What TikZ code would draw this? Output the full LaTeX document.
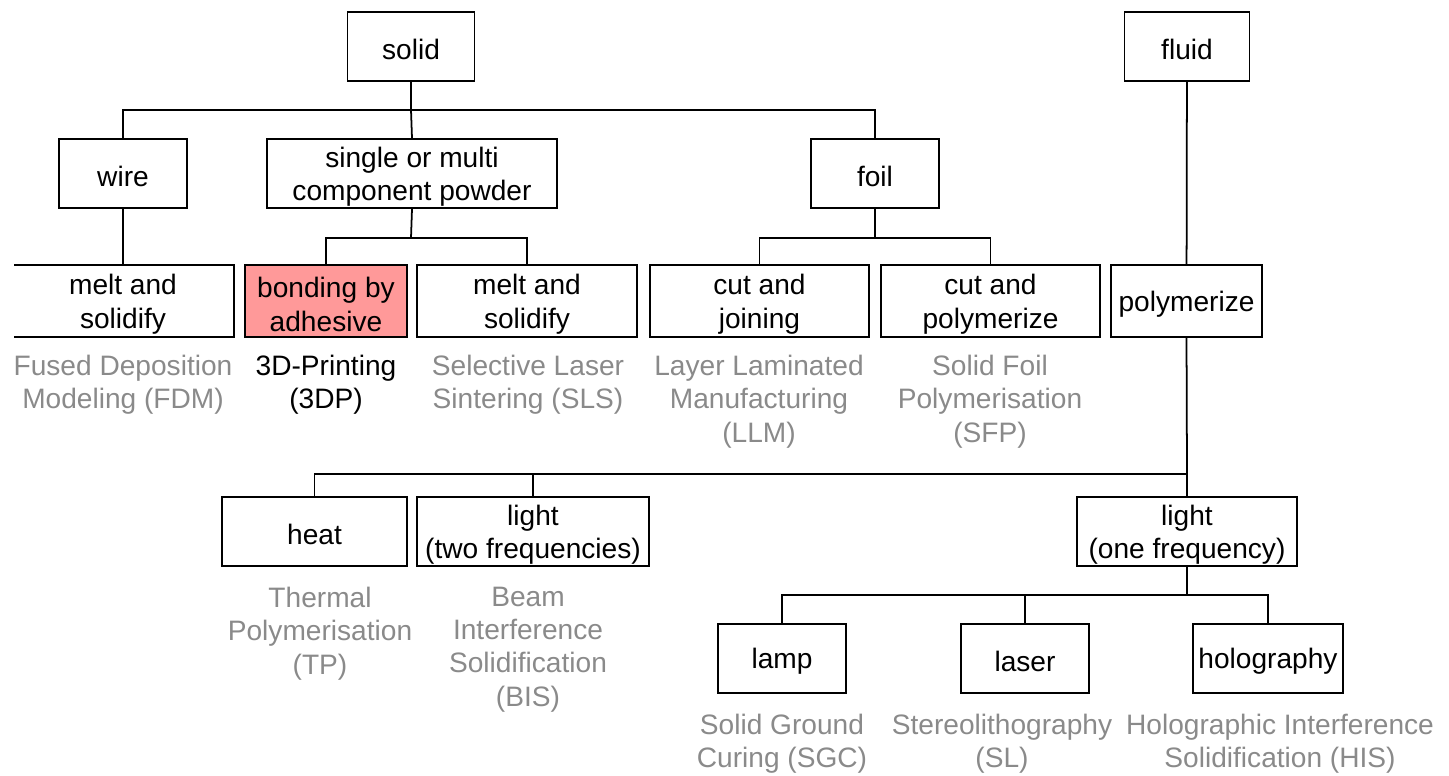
\documentclass[tikz,border=0pt]{standalone}
\usepackage{fontspec}
\setmainfont{Liberation Sans}
\usetikzlibrary{positioning}
\definecolor{labelgray}{RGB}{138,138,138}
\definecolor{adhesivered}{RGB}{255,153,153}

\tikzset{
	proc/.style={draw, fill=white, line width=1pt, align=center, inner sep=0pt, minimum height=1.38cm,
		execute at begin node={\rule{0pt}{0.95em}}},
	twoline/.style={execute at begin node={\rule{0pt}{2.15em}}},
	tall/.style={minimum height=1.44cm},
	method/.style={text=labelgray, align=center, inner sep=0pt, anchor=north},
}

\begin{document}
\begin{tikzpicture}[x=0.02cm, y=-0.02cm, line width=1pt, font=\fontsize{16}{19}\selectfont] % pixel grid, y runs down

	\useasboundingbox (0,0) rectangle (1449,775);

	% material state
	\node[proc, minimum width=2.54cm] (solid) at (411,46.5) {solid};
	\node[proc, minimum width=2.5cm] (fluid) at (1187,46.5) {fluid};

	\node[proc, minimum width=2.56cm] (wire) at (123,173.5) {wire};
	\node[proc, twoline, minimum width=5.8cm] (powder) at (412,173.5) {single or multi\\component powder};
	\node[proc, minimum width=2.56cm] (foil) at (875,173.5) {foil};

	% left box runs off the page
	\begin{scope}
		\clip (14,250) rectangle (300,350);
		\node[proc, twoline, tall, minimum width=4.44cm] (melta) at (123,301) {melt and\\solidify};
	\end{scope}
	\node[proc, twoline, tall, minimum width=3.24cm, fill=adhesivered] (bond) at (326,301) {bonding by\\adhesive};
	\node[proc, twoline, tall, minimum width=4.4cm] (meltb) at (527,301) {melt and\\solidify};
	\node[proc, twoline, tall, minimum width=4.38cm] (cutj) at (759.5,301) {cut and\\joining};
	\node[proc, twoline, tall, minimum width=4.38cm] (cutp) at (990.5,301) {cut and\\polymerize};
	\node[proc, tall, minimum width=3.02cm] (poly) at (1186.5,301) {polymerize};

	\node[proc, minimum width=3.7cm] (heat) at (314.5,531.5) {heat};
	\node[proc, twoline, minimum width=4.64cm] (lighttwo) at (533,531.5) {light\\(two frequencies)};
	\node[proc, twoline, minimum width=4.4cm] (lightone) at (1187,531.5) {light\\(one frequency)};

	\node[proc, minimum width=2.56cm] (lamp) at (782,658.5) {lamp};
	\node[proc, minimum width=2.56cm] (laser) at (1025,658.5) {laser};
	\node[proc, minimum width=3cm] (holo) at (1268,658.5) {holography};

	% process names
	\node[method] (fdm) at (123,354) {Fused Deposition\\Modeling (FDM)};
	\node[method, text=black] (tdp) at (326,354) {3D-Printing\\(3DP)};
	\node[method] (sls) at (528,354) {Selective Laser\\Sintering (SLS)};
	\node[method] (llm) at (759,354) {Layer Laminated\\Manufacturing\\(LLM)};
	\node[method] (sfp) at (990,354) {Solid Foil\\Polymerisation\\(SFP)};
	\node[method] (tp) at (320,586) {Thermal\\Polymerisation\\(TP)};
	\node[method] (bis) at (528,586) {Beam\\Interference\\Solidification\\(BIS)};
	\node[method] (sgc) at (782,713) {Solid Ground\\Curing (SGC)};
	\node[method] (sl) at (1002,713) {Stereolithography\\(SL)};
	\node[method] (his) at (1280,713) {Holographic Interference\\Solidification (HIS)};

	% branch points
	\coordinate (sbus) at (411,110);
	\coordinate (pbus) at (411,238);
	\coordinate (fbus) at (875,238);
	\coordinate (ybus) at (1187,474);
	\coordinate (lbus) at (1187,595);

	\draw (solid) -- (sbus);
	\draw (wire.north) |- (sbus) -| (foil.north);
	\draw (sbus) -- (powder.north);
	\draw (wire) -- (melta.north);

	\draw (powder.south) -- (pbus);
	\draw (bond.north) |- (pbus) -| (meltb.north);

	\draw (foil.south) -- (fbus);
	\draw (cutj.north) |- (fbus) -| (cutp.north);

	\draw (fluid) -- (poly);
	\draw (poly.south) -- (ybus);
	\draw (heat.north) |- (ybus) -- (lightone.north);
	\draw (lighttwo.north) -- (lighttwo.north |- ybus);

	\draw (lightone.south) -- (lbus);
	\draw (lamp.north) |- (lbus) -| (holo.north);
	\draw (laser.north) -- (laser.north |- lbus);

\end{tikzpicture}
\end{document}
